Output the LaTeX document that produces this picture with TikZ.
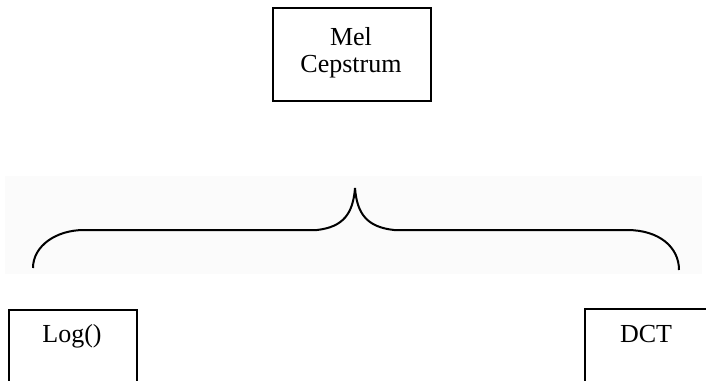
\documentclass[tikz,border=0pt]{standalone}
\usepackage{fontspec}
\setmainfont{Liberation Serif}
\begin{document}
\begin{tikzpicture}[x=1pt,y=-1pt,
  boxframe/.style={draw=black,line width=1.6pt,inner sep=0pt},
  boxtext/.style={font=\fontsize{26}{28}\selectfont,anchor=base,inner sep=0pt},
  bracepath/.style={draw=black,line width=2pt}]
\useasboundingbox (0,0) rectangle (706,380);
\clip (0,0) rectangle (706,380);
\fill[black!1.5] (5,176) rectangle (702,274);
% top box
\node[boxframe,minimum width=158pt,minimum height=93pt,anchor=north west] (mel) at (272,7) {};
\node[boxtext] (melt1) at (351,45) {Mel};
\node[boxtext] (melt2) at (351,72) {Cepstrum};
% bottom boxes
\node[boxframe,minimum width=128pt,minimum height=90pt,anchor=north west] (log) at (8,309) {};
\node[boxtext] (logt) at (72,342) {Log()};
\node[boxframe,minimum width=124pt,minimum height=90pt,anchor=north west] (dct) at (584,308) {};
\node[boxtext] (dctt) at (646,342) {DCT};
% brace
\coordinate (bl) at (33,268);
\coordinate (bla) at (84,230);
\coordinate (blb) at (317,230);
\coordinate (tip) at (355,188);
\coordinate (bra) at (394,230);
\coordinate (brb) at (627,230);
\coordinate (br) at (679,270);
\draw[bracepath] (bl) .. controls (33,246) and (56,230) .. (bla) -- (blb)
  .. controls (343,227) and (353,214) .. (tip)
  .. controls (357,214) and (367,227) .. (bra) -- (brb)
  .. controls (659,230) and (679,247) .. (br);
\end{tikzpicture}
\end{document}
